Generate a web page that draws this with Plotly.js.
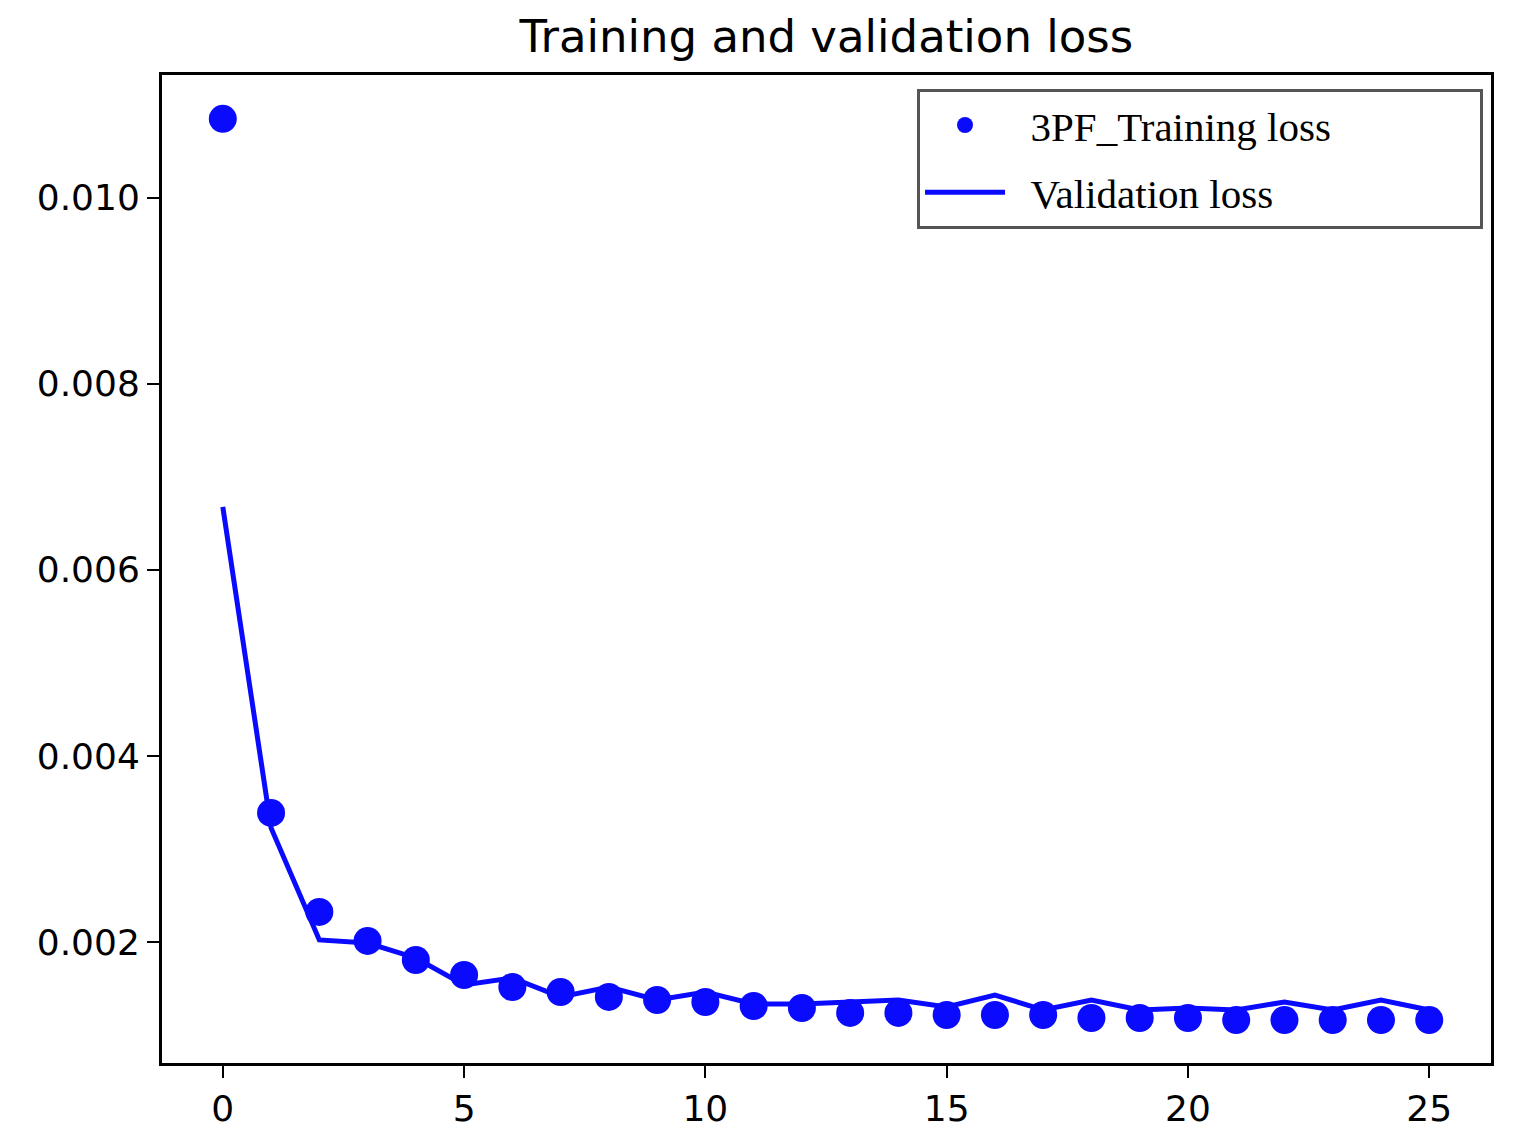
<!DOCTYPE html>
<html>
<head>
<meta charset="utf-8">
<script src="https://cdn.plot.ly/plotly-3.0.1.min.js"></script>
<style>
  html, body { margin: 0; padding: 0; background: #fff; }
  #chart { width: 1519px; height: 1133px; }
</style>
</head>
<body>
<div id="chart"></div>
<script>
// Epochs and loss values
const epochs = [0, 1, 2, 3, 4, 5, 6, 7, 8, 9, 10, 11, 12, 13, 14, 15, 16, 17, 18, 19, 20, 21, 22, 23, 24, 25];
const trainingLoss = [0.010849, 0.003387, 0.002323, 0.002011, 0.001806, 0.001645, 0.001516, 0.001462,
    0.001409, 0.001376, 0.001355, 0.001312, 0.001290, 0.001237, 0.001237, 0.001215, 0.001215, 0.001215,
    0.001183, 0.001183, 0.001183, 0.001161, 0.001161, 0.001161, 0.001161, 0.001161];
const validationLoss = [0.006677, 0.003226, 0.002022, 0.001989, 0.001828, 0.001538, 0.001613, 0.001409,
    0.001516, 0.001376, 0.001462, 0.001333, 0.001333, 0.001355, 0.001376, 0.001301, 0.001430, 0.001269,
    0.001376, 0.001269, 0.001290, 0.001269, 0.001355, 0.001269, 0.001376, 0.001269];
const yTicks = [0.002, 0.004, 0.006, 0.008, 0.010];
const xTicks = [0, 5, 10, 15, 20, 25];

// non-breaking spaces pad the legend like the matplotlib one
const pad = n => '\u00a0'.repeat(n);

const traces = [
    {
        x: epochs,
        y: trainingLoss,
        name: pad(2) + '3PF_Training loss' + pad(14),
        legendgroup: 'train',
        type: 'scatter',
        mode: 'markers',
        marker: { color: '#0a0aff', size: 28 }
    },
    {
        x: epochs,
        y: validationLoss,
        name: pad(2) + 'Validation loss',
        legendgroup: 'val',
        type: 'scatter',
        mode: 'lines',
        line: { color: '#0a0aff', width: 5 }
    }
];

const axisStyle = {
    showline: true,
    mirror: true,
    linecolor: '#000',
    linewidth: 3,
    showgrid: false,
    zeroline: false,
    ticks: 'outside',
    ticklen: 12,
    tickwidth: 2,
    tickcolor: '#000',
    tickfont: { family: 'DejaVu Sans', size: 36, color: '#000' }
};

const layout = {
    width: 1519,
    height: 1133,
    margin: { l: 162, r: 28, t: 75, b: 70 },
    title: {
        text: 'Training and validation loss',
        font: { family: 'DejaVu Sans', size: 45, color: '#000' },
        x: 0.544, xanchor: 'center',
        y: 0.968, yanchor: 'middle'
    },
    xaxis: Object.assign({}, axisStyle, {
        range: [-1.26, 26.28],
        tickvals: xTicks
    }),
    yaxis: Object.assign({}, axisStyle, {
        range: [0.000699, 0.01132],
        tickvals: yTicks,
        tickformat: '.3f'
    }),
    legend: {
        x: 0.994, xanchor: 'right',
        y: 0.986, yanchor: 'top',
        bgcolor: '#fff',
        bordercolor: '#555',
        borderwidth: 3,
        itemwidth: 80,
        traceorder: 'grouped',
        tracegroupgap: 11,
        font: { family: 'Liberation Serif', size: 41, color: '#000' }
    },
    paper_bgcolor: '#fff',
    plot_bgcolor: '#fff',
    showlegend: true
};

Plotly.newPlot('chart', traces, layout, { displayModeBar: false, staticPlot: true });
</script>
</body>
</html>
